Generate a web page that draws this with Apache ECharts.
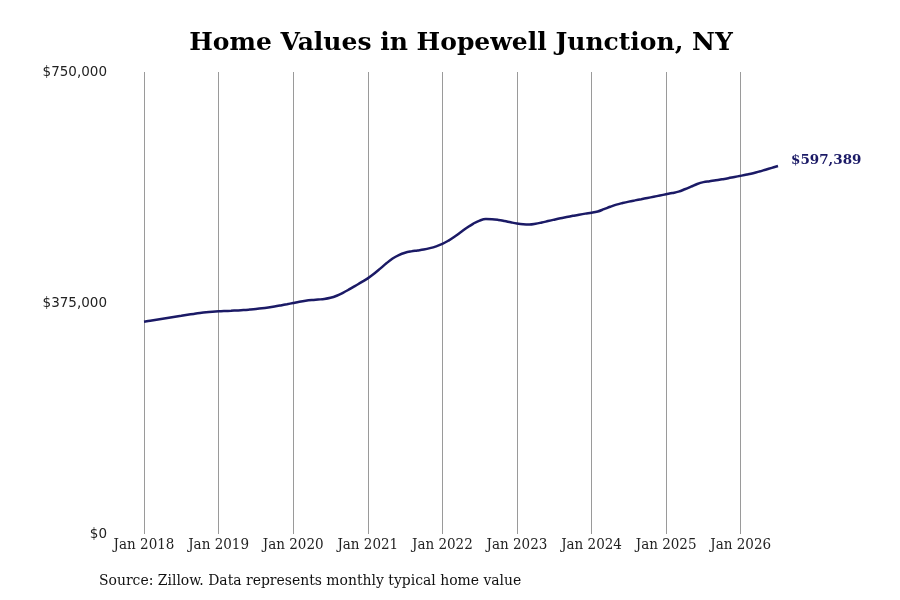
<!DOCTYPE html>
<html>
<head>
<meta charset="utf-8">
<script src="https://cdn.jsdelivr.net/npm/echarts@6/dist/echarts.min.js"></script>
<style>
  html, body { margin: 0; padding: 0; background: #ffffff; }
  #chart { width: 900px; height: 600px; }
</style>
</head>
<body>
<div id="chart"></div>
<script>
const years = [2018, 2019, 2020, 2021, 2022, 2023, 2024, 2025, 2026];
const monthNames = ['Jan','Feb','Mar','Apr','May','Jun','Jul','Aug','Sep','Oct','Nov','Dec'];
const lastMonthIndexOf2026 = 6; // data ends Jul 2026

const homeValues = [
  344600, 346200, 347800, 349400, 351000, 352600, 354200, 355800, 357300, 358700, 359900, 360800,
  361500, 362000, 362400, 362900, 363500, 364300, 365200, 366300, 367700, 369300, 371100, 373000,
  375000, 376900, 378500, 379700, 380600, 381500, 383400, 386800, 391500, 397000, 402900, 408800,
  415000, 422400, 430800, 439500, 447200, 452800, 456600, 458800, 460300, 461900, 464100, 467000,
  470800, 476300, 482900, 490200, 497500, 504000, 508800, 511200, 511000, 509900, 508100, 506000,
  504100, 502800, 502400, 503600, 505700, 508000, 510300, 512500, 514500, 516500, 518400, 520100,
  521500, 523600, 527300, 531200, 534700, 537300, 539600, 541600, 543500, 545500, 547500, 549500,
  551500, 553500, 555800, 559600, 563800, 568200, 571200, 572700, 574100, 575800, 577600, 579600,
  581500, 583500, 585700, 588400, 591400, 594400, 597389
];

const yTicks = [0, 375000, 750000];
const titleText = 'Home Values in Hopewell Junction, NY';
const sourceText = 'Source: Zillow. Data represents monthly typical home value';

const months = [];
years.forEach(function (y) {
  monthNames.forEach(function (m, i) {
    if (y < 2026 || i <= lastMonthIndexOf2026) months.push(m + ' ' + y);
  });
});

const serifCond = 'DejaVu Serif Condensed';
const serifBold = 'DejaVu Serif';
const fmtMoney = function (v) { return '$' + Math.round(v).toLocaleString('en-US'); };

const chart = echarts.init(document.getElementById('chart'), null, { renderer: 'canvas' });
chart.setOption({
  backgroundColor: '#ffffff',
  animation: false,
  title: {
    text: titleText,
    left: 456,
    top: 26,
    textAlign: 'center',
    textStyle: {
      fontFamily: serifBold,
      fontWeight: 'bold',
      fontSize: 25,
      color: '#000000'
    }
  },
  grid: {
    left: 144,
    right: 122,
    top: 72,
    bottom: 66,
    containLabel: false,
    outerBoundsMode: 'none'
  },
  xAxis: {
    type: 'category',
    data: months,
    boundaryGap: false,
    axisLine: { show: false },
    axisTick: { show: false },
    axisLabel: {
      interval: function (idx) { return idx % 12 === 0; },
      fontFamily: serifCond,
      fontSize: 15,
      color: '#222222',
      margin: 4
    },
    splitLine: {
      show: true,
      interval: function (idx) { return idx % 12 === 0; },
      lineStyle: { color: '#9a9a9a', width: 1 }
    }
  },
  yAxis: {
    type: 'value',
    min: 0,
    max: yTicks[yTicks.length - 1],
    interval: yTicks[1] - yTicks[0],
    axisLine: { show: false },
    axisTick: { show: false },
    splitLine: { show: false },
    axisLabel: {
      formatter: fmtMoney,
      fontFamily: 'DejaVu Sans',
      fontSize: 13.5,
      color: '#222222',
      margin: 37,
      padding: [9, 0, 0, 0]
    }
  },
  series: [{
    type: 'line',
    data: homeValues,
    smooth: 0.4,
    showSymbol: false,
    symbol: 'none',
    lineStyle: { color: '#1b1a66', width: 2.5 },
    endLabel: {
      show: true,
      formatter: function (p) { return fmtMoney(p.value); },
      fontFamily: serifBold,
      fontWeight: 'bold',
      fontSize: 13.5,
      color: '#1b1a66',
      distance: 13,
      offset: [0, -6]
    }
  }],
  graphic: [{
    type: 'text',
    left: 99,
    top: 573,
    style: {
      text: sourceText,
      fontFamily: serifCond,
      fontSize: 15.5,
      fill: '#111111'
    }
  }]
});
</script>
</body>
</html>
